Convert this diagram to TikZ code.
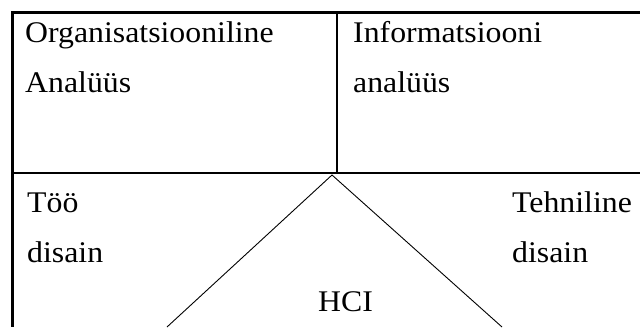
\documentclass[tikz,border=0pt]{standalone}
\usepackage{fontspec}
\setmainfont{Liberation Serif}[FakeStretch=1.06]
\begin{document}
\begin{tikzpicture}[x=1pt,y=-1pt,
  frame/.style={line width=2.2pt},
  thin line/.style={line width=0.9pt},
  label/.style={anchor=base west,inner sep=0pt,font=\fontsize{30}{30}\selectfont}]
\useasboundingbox (0,0) rectangle (640,327);
% table frame
\coordinate (tl) at (12.5,12.5);
\coordinate (tr) at (640,12.5);
\coordinate (bl) at (12.5,327);
\coordinate (ml) at (12.5,173);
\coordinate (mr) at (640,173);
\coordinate (dt) at (337,12.5);
\coordinate (db) at (337,173);
\draw[frame] (tr) -- (tl) -- (bl);
\draw[frame] (ml) -- (mr);
\draw[frame] (dt) -- (db);
% triangle
\coordinate (apex) at (332,175);
\coordinate (lfoot) at (167,327);
\coordinate (rfoot) at (502,327);
\draw[thin line] (lfoot) -- (apex) -- (rfoot);
% cell texts
\node[label] (org1) at (25,42) {Organisatsiooniline};
\node[label] (org2) at (25,92) {Analüüs};
\node[label] (inf1) at (353,42) {Informatsiooni};
\node[label] (inf2) at (353,92) {analüüs};
\node[label] (too1) at (27,212) {Töö};
\node[label] (too2) at (27,262) {disain};
\node[label] (teh1) at (512,212) {Tehniline};
\node[label] (teh2) at (512,262) {disain};
\node[label] (hci) at (318,311) {HCI};
\end{tikzpicture}
\end{document}
